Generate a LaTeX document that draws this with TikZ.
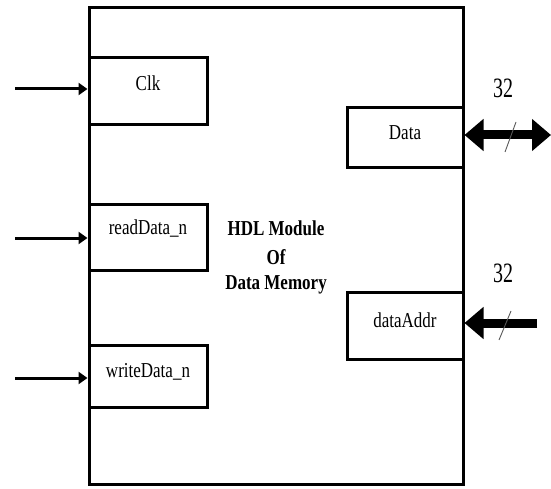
\documentclass[tikz,border=0pt]{standalone}
\usepackage{fontspec}
\usepackage{graphicx}
\setmainfont{Liberation Serif}
\usetikzlibrary{arrows.meta}
\begin{document}
\begin{tikzpicture}[x=1pt,y=-1pt,
  lw/.style={line width=3pt},
  portbox/.style={draw,lw,inner sep=0pt},
  boxtext/.style={font=\fontsize{17}{19}\selectfont,inner sep=0pt},
  thinarrow/.style={line width=3pt,-{Triangle[length=9pt,width=12pt]}},
  busarrow/.style={line width=9pt,-{Triangle[length=19pt,width=31pt]}},
  busboth/.style={line width=9pt,{Triangle[length=19pt,width=31pt]}-{Triangle[length=19pt,width=31pt]}},
  slash/.style={line width=0.9pt},
  lbl/.style={font=\fontsize{20}{22}\selectfont,inner sep=0pt}]
\useasboundingbox (0,0) rectangle (551,489);
\node[portbox,minimum width=374pt,minimum height=476pt] (mod) at (276,246) {};
\node[portbox,minimum width=118pt,minimum height=67pt] (clk) at (148,91.5) {};
\node[portbox,minimum width=118pt,minimum height=66pt] (rd) at (148,237) {};
\node[portbox,minimum width=118pt,minimum height=62pt] (wr) at (148,376) {};
\node[portbox,minimum width=116pt,minimum height=60pt] (data) at (405,138) {};
\node[portbox,minimum width=116pt,minimum height=67pt] (addr) at (405,326) {};
\node[boxtext] (tclk) at (148,83) {\scalebox{1}[1.25]{Clk}};
\node[boxtext] (trd) at (148,228) {\scalebox{1}[1.25]{readData\_n}};
\node[boxtext] (twr) at (148,372) {\scalebox{1}[1.25]{writeData\_n}};
\node[boxtext] (tdata) at (405,133) {\scalebox{1}[1.25]{Data}};
\node[boxtext] (taddr) at (405,320) {\scalebox{1}[1.25]{dataAddr}};
\node[font=\bfseries\fontsize{17}{19}\selectfont,inner sep=0pt] (t1) at (276,228) {\scalebox{1}[1.25]{HDL Module}};
\node[font=\bfseries\fontsize{17}{19}\selectfont,inner sep=0pt] (t2) at (276,257) {\scalebox{1}[1.25]{Of}};
\node[font=\bfseries\fontsize{17}{19}\selectfont,inner sep=0pt] (t3) at (276,285) {\scalebox{1}[1.25]{Data Memory}};
\coordinate (clkin) at (15,89);
\coordinate (rdin) at (15,238);
\coordinate (wrin) at (15,378);
\coordinate (dataout) at (551,135);
\coordinate (addrin) at (537,323);
\draw[thinarrow] (clkin) -- (clkin -| clk.west);
\draw[thinarrow] (rdin) -- (rdin -| rd.west);
\draw[thinarrow] (wrin) -- (wrin -| wr.west);
\draw[busboth] (dataout -| data.east) -- (dataout);
\draw[busarrow] (addrin) -- (addrin -| addr.east);
\coordinate (s1a) at (505,152); \coordinate (s1b) at (516,122);
\coordinate (s2a) at (499,340); \coordinate (s2b) at (511,311);
\draw[slash,gray!70!black] (s1a) -- (s1b);
\draw[slash,gray!70!black] (s2a) -- (s2b);
\node[lbl] (n1) at (503,88) {\scalebox{1}[1.4]{32}};
\node[lbl] (n2) at (503,273) {\scalebox{1}[1.4]{32}};
\end{tikzpicture}
\end{document}
